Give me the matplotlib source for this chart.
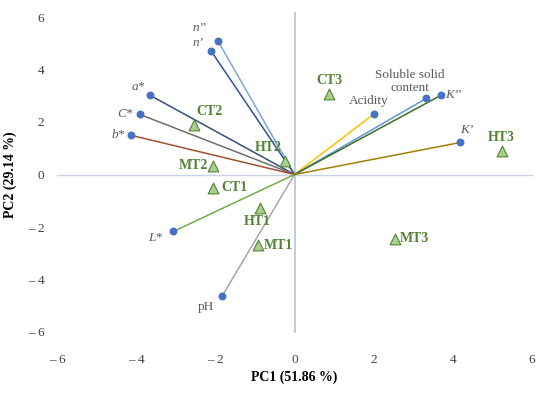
import matplotlib
matplotlib.use("Agg")
import matplotlib.pyplot as plt

# Loadings (variables)
var_names = ["n’’", "n’", "a*", "C*", "b*", "L*", "pH", "Acidity",
             "Soluble solid\ncontent", "K’’", "K’"]
var_x = [-1.94, -2.10, -3.64, -3.91, -4.12, -3.06, -1.82, 2.02, 3.33, 3.69, 4.19]
var_y = [5.10, 4.69, 3.01, 2.29, 1.49, -2.17, -4.61, 2.32, 2.90, 3.01, 1.22]
var_colors = ["#7fa7d9", "#2f5597", "#34507a", "#6e6e6e", "#a0522d", "#70ad47",
              "#a6a6a6", "#ffc000", "#5b9bd5", "#3b6e22", "#a08000"]
var_italic = [True, True, True, True, True, True, False, False, False, True, True]

# Scores (samples)
smp_names = ["CT3", "CT2", "HT2", "MT2", "CT1", "HT1", "MT1", "MT3", "HT3"]
smp_x = [0.88, -2.55, -0.25, -2.05, -2.07, -0.86, -0.91, 2.53, 5.23]
smp_y = [3.05, 1.90, 0.53, 0.34, -0.50, -1.26, -2.70, -2.44, 0.91]

ticks = [-6, -4, -2, 0, 2, 4, 6]
tick_labels = ["– 6", "– 4", "– 2", "0", "2", "4", "6"]

plt.rcParams['font.family'] = ['Liberation Serif', 'DejaVu Serif']

fig = plt.figure(figsize=(5.5, 3.93), dpi=100)
ax = fig.add_axes([57/550, 61/393, 475/550, 315/393])
ax.set_xlim(-6, 6)
ax.set_ylim(-6, 6)
for s in ax.spines.values():
    s.set_visible(False)

ax.plot([-6, 6], [0, 0], color="#c9d3e3", lw=1, zorder=1, clip_on=False)
ax.plot([0, 0], [-6, 6.15], color="#b4c2da", lw=1.2, zorder=1, clip_on=False)

for x, y, c in zip(var_x, var_y, var_colors):
    ax.plot([0, x], [0, y], color=c, lw=1.1, zorder=2)
ax.scatter(var_x, var_y, s=22, color="#4472c4", zorder=4)

txtc = "#595959"
off = {
    "n’’": (-8, 5, 'right', 'bottom'),
    "n’": (-6, 2, 'right', 'bottom'),
    "a*": (-4, 2, 'right', 'bottom'),
    "C*": (-5, 0, 'right', 'center'),
    "b*": (-5, 0, 'right', 'center'),
    "L*": (-8, -5, 'right', 'center'),
    "pH": (-6, -8, 'right', 'center'),
    "Acidity": (-4, 5, 'center', 'bottom'),
    "Soluble solid\ncontent": (-12, 3, 'center', 'bottom'),
    "K’’": (3, 0, 'left', 'center'),
    "K’": (0, 5, 'left', 'bottom'),
}
for n, x, y, it in zip(var_names, var_x, var_y, var_italic):
    dx, dy, ha, va = off[n]
    ax.annotate(n, (x, y), xytext=(dx, dy), textcoords='offset points',
                ha=ha, va=va, fontsize=9.5, color=txtc,
                style='italic' if it else 'normal', linespacing=1.15)

ax.scatter(smp_x, smp_y, marker='^', s=60, facecolor="#a9d18e",
           edgecolor="#548235", lw=0.8, zorder=5)
soff = {
    "CT3": (0, 5, 'center', 'bottom'),
    "CT2": (2, 5, 'left', 'bottom'),
    "HT2": (-2, 5, 'right', 'bottom'),
    "MT2": (-4, 0, 'right', 'center'),
    "CT1": (6, 0, 'left', 'center'),
    "HT1": (-2, -5, 'center', 'top'),
    "MT1": (4, 0, 'left', 'center'),
    "MT3": (4, 0, 'left', 'center'),
    "HT3": (0, 5, 'center', 'bottom'),
}
for n, x, y in zip(smp_names, smp_x, smp_y):
    dx, dy, ha, va = soff[n]
    ax.annotate(n, (x, y), xytext=(dx, dy), textcoords='offset points',
                ha=ha, va=va, fontsize=10, color="#548235", fontweight='bold')

ax.set_xticks(ticks)
ax.set_xticklabels(tick_labels)
ax.set_yticks(ticks)
ax.set_yticklabels(tick_labels)
ax.tick_params(axis='x', length=0, pad=16, labelsize=9.5, labelcolor="#404040")
ax.tick_params(axis='y', length=0, pad=9, labelsize=9.5, labelcolor="#404040")
ax.set_xlabel("PC1 (51.86 %)", fontsize=10, fontweight='bold', labelpad=3)
ax.set_ylabel("PC2 (29.14 %)", fontsize=10, fontweight='bold', labelpad=8)

fig.savefig("out.png", dpi=100)
